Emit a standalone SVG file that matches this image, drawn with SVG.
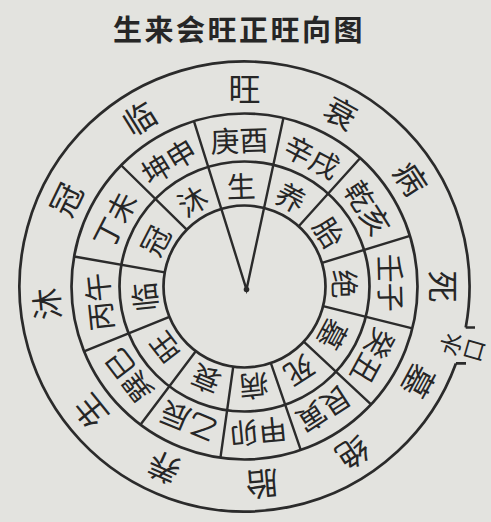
<svg xmlns="http://www.w3.org/2000/svg" width="491" height="522" viewBox="0 0 491 522">
<style>
.ring{fill:none;stroke:#2b2b2b;stroke-width:2.7}
.div{stroke:#2b2b2b;stroke-width:2.4;fill:none}
text{font-family:"Noto Sans CJK SC","Noto Sans CJK TC",sans-serif;fill:#262626;text-anchor:middle;dominant-baseline:central}
.title{font-size:29px;font-weight:700;letter-spacing:2.5px}
.outer{font-size:32px}
.pair{font-size:29px}
.inner{font-size:29px}
.mouth{font-size:23px}
</style>
<rect width="491" height="522" fill="#e3e3df"/>
<text class="title" x="239" y="27.5">生来会旺正旺向图</text>

<g id="rings">
<path class="ring" d="M455.93,363.45 A225,225 0 1 1 465.73,327.5"/>
<path class="ring" d="M465.73,327.5 H475 M455.93,363.45 H466"/>
<circle class="ring" cx="244.5" cy="286.5" r="173"/>
<circle class="ring" cx="244.5" cy="286.5" r="125"/>
<circle class="ring" cx="244.5" cy="286.5" r="81"/>
</g>

<g id="connectors">
<path class="div" d="M298.7,226.31 L360.26,157.94 M321.96,262.82 L409.94,235.92 M323.09,306.1 L412.36,328.35 M303.74,341.74 L371.02,404.49 M270.87,363.09 L300.82,450.07 M233.23,366.71 L220.42,457.82 M195.75,351.19 L140.39,424.66 M169.4,316.84 L84.1,351.31 M164.73,272.43 L74.13,256.46 M186.73,229.73 L121.11,165.24"/>
<path class="div" d="M193.92,121.06 L246.5,289.5 L283.42,117.93"/>
<circle cx="246.5" cy="289.5" r="2.8" fill="#2b2b2b"/>
</g>

<g id="outer-stages">
<text class="outer" x="244.5" y="86.5" transform="rotate(0 244.5 286.5)">旺</text>
<text class="outer" x="244.5" y="86.5" transform="rotate(29 244.5 286.5)">衰</text>
<text class="outer" x="244.5" y="86.5" transform="rotate(57 244.5 286.5)">病</text>
<text class="outer" x="244.5" y="86.5" transform="rotate(90 244.5 286.5)">死</text>
<text class="outer" x="244.5" y="86.5" transform="rotate(118.5 244.5 286.5)">墓</text>
<text class="outer" x="244.5" y="86.5" transform="rotate(147 244.5 286.5)">绝</text>
<text class="outer" x="244.5" y="86.5" transform="rotate(175 244.5 286.5)">胎</text>
<text class="outer" x="244.5" y="86.5" transform="rotate(204 244.5 286.5)">养</text>
<text class="outer" x="244.5" y="86.5" transform="rotate(231 244.5 286.5)">生</text>
<text class="outer" x="244.5" y="86.5" transform="rotate(265 244.5 286.5)">沐</text>
<text class="outer" x="244.5" y="86.5" transform="rotate(296 244.5 286.5)">冠</text>
<text class="outer" x="244.5" y="86.5" transform="rotate(328 244.5 286.5)">临</text>
</g>

<g id="water-mouth">
<text class="mouth" x="449.75" y="343.42" transform="rotate(-74 449.75 343.42)">水</text>
<text class="mouth" x="472.5" y="349.8" transform="rotate(-74 472.5 349.8)">口</text>
</g>

<g id="mountains">
<text class="pair" x="244.5" y="138.5" transform="rotate(358 244.5 286.5)">庚酉</text>
<text class="pair" x="244.5" y="138.5" transform="rotate(27.5 244.5 286.5)">辛戌</text>
<text class="pair" x="244.5" y="138.5" transform="rotate(57.5 244.5 286.5)">乾亥</text>
<text class="pair" x="244.5" y="138.5" transform="rotate(88.5 244.5 286.5)">壬子</text>
<text class="pair" x="244.5" y="138.5" transform="rotate(118.5 244.5 286.5)">癸丑</text>
<text class="pair" x="244.5" y="138.5" transform="rotate(147 244.5 286.5)">艮寅</text>
<text class="pair" x="244.5" y="138.5" transform="rotate(174.5 244.5 286.5)">甲卯</text>
<text class="pair" x="244.5" y="138.5" transform="rotate(202.5 244.5 286.5)">乙辰</text>
<text class="pair" x="244.5" y="138.5" transform="rotate(232.5 244.5 286.5)">巽巳</text>
<text class="pair" x="244.5" y="138.5" transform="rotate(264 244.5 286.5)">丙午</text>
<text class="pair" x="244.5" y="138.5" transform="rotate(297.25 244.5 286.5)">丁未</text>
<text class="pair" x="244.5" y="138.5" transform="rotate(328.75 244.5 286.5)">坤申</text>
</g>

<g id="inner-stages">
<text class="inner" x="244.5" y="184.5" transform="rotate(358 244.5 286.5)">生</text>
<text class="inner" x="244.5" y="184.5" transform="rotate(27.5 244.5 286.5)">养</text>
<text class="inner" x="244.5" y="184.5" transform="rotate(57.5 244.5 286.5)">胎</text>
<text class="inner" x="244.5" y="184.5" transform="rotate(88.5 244.5 286.5)">绝</text>
<text class="inner" x="244.5" y="184.5" transform="rotate(118.5 244.5 286.5)">墓</text>
<text class="inner" x="244.5" y="184.5" transform="rotate(147 244.5 286.5)">死</text>
<text class="inner" x="244.5" y="184.5" transform="rotate(174.5 244.5 286.5)">病</text>
<text class="inner" x="244.5" y="184.5" transform="rotate(202.5 244.5 286.5)">衰</text>
<text class="inner" x="244.5" y="184.5" transform="rotate(232.5 244.5 286.5)">旺</text>
<text class="inner" x="244.5" y="184.5" transform="rotate(264 244.5 286.5)">临</text>
<text class="inner" x="244.5" y="184.5" transform="rotate(297.25 244.5 286.5)">冠</text>
<text class="inner" x="244.5" y="184.5" transform="rotate(328.75 244.5 286.5)">沐</text>
</g>
</svg>
